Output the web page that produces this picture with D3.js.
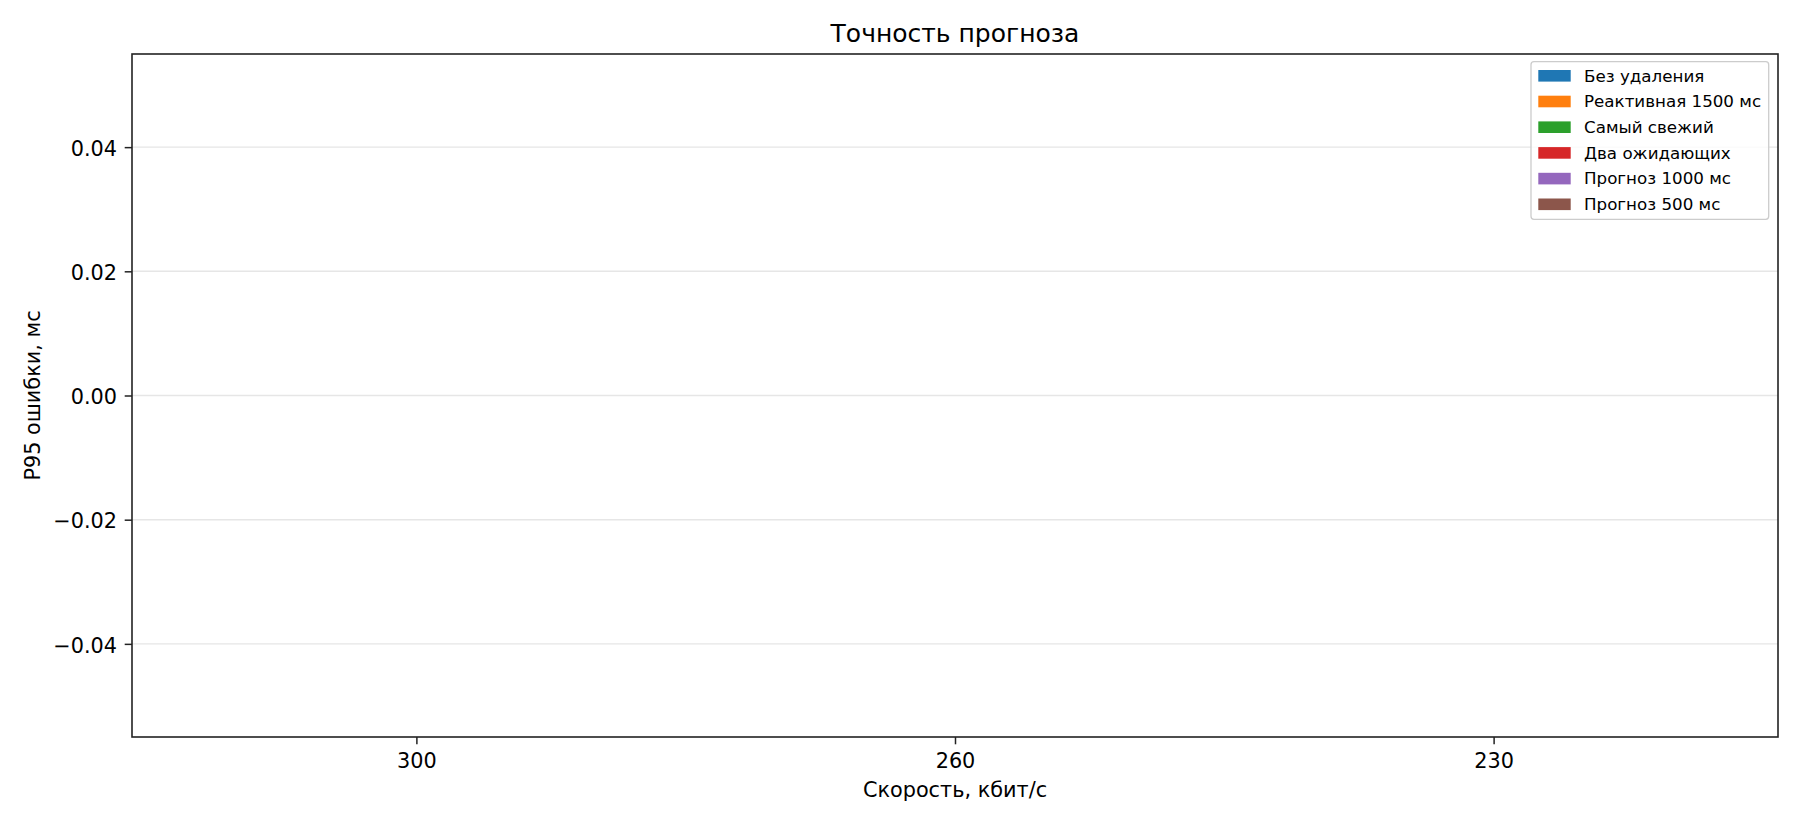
<!DOCTYPE html>
<html>
<head>
<meta charset="utf-8">
<script src="https://cdn.jsdelivr.net/npm/d3@7"></script>
<style>
  html, body { margin: 0; padding: 0; background: #fff; }
  svg { display: block; font-family: "DejaVu Sans", sans-serif; }
</style>
</head>
<body>
<svg id="chart" width="1800" height="825"></svg>
<script>
// ---- data ----
const categories = ["300", "260", "230"];
const seriesNames = ["Без удаления", "Реактивная 1500 мс", "Самый свежий", "Два ожидающих", "Прогноз 1000 мс", "Прогноз 500 мс"];
const seriesColors = ["#1f77b4", "#ff7f0e", "#2ca02c", "#d62728", "#9467bd", "#8c564b"];
const valuesNoDrop = [0, 0, 0];
const valuesReactive1500 = [0, 0, 0];
const valuesFreshest = [0, 0, 0];
const valuesTwoPending = [0, 0, 0];
const valuesForecast1000 = [0, 0, 0];
const valuesForecast500 = [0, 0, 0];
const yTickValues = [-0.04, -0.02, 0.00, 0.02, 0.04];
const titleText = "Точность прогноза";
const xLabelText = "Скорость, кбит/с";
const yLabelText = "P95 ошибки, мс";

const seriesValues = [valuesNoDrop, valuesReactive1500, valuesFreshest, valuesTwoPending, valuesForecast1000, valuesForecast500];

(function () {
// ---- layout ----
const pLeft = 132, pRight = 1778, pTop = 54, pBottom = 737;
const svg = d3.select("#chart");

const x = d3.scalePoint().domain(categories).range([pLeft, pRight]).padding(0.528);
const step = x.step();
const xInner = d3.scaleBand().domain(seriesNames).range([-0.4 * step, 0.4 * step]);
const y = d3.scaleLinear().domain([-0.055, 0.055]).range([pBottom, pTop]);

// grid
svg.append("g").selectAll("line").data(yTickValues).join("line")
  .attr("x1", pLeft).attr("x2", pRight)
  .attr("y1", d => y(d)).attr("y2", d => y(d))
  .attr("stroke", "#e6e6e6").attr("stroke-width", 1.4);

// bars
const barG = svg.append("g");
seriesNames.forEach((name, si) => {
  barG.append("g").selectAll("rect").data(seriesValues[si].map((v, ci) => ({ v, c: categories[ci] })))
    .join("rect")
    .attr("x", d => x(d.c) + xInner(name))
    .attr("width", xInner.bandwidth())
    .attr("y", d => Math.min(y(d.v), y(0)))
    .attr("height", d => Math.abs(y(d.v) - y(0)))
    .attr("fill", seriesColors[si]);
});

// axes
const fontPx = 20.8;
const xAxis = svg.append("g").attr("transform", `translate(0,${pBottom})`)
  .call(d3.axisBottom(x).tickSize(7.3).tickPadding(8.6));
const yAxis = svg.append("g").attr("transform", `translate(${pLeft},0)`)
  .call(d3.axisLeft(y).tickValues(yTickValues).tickFormat(d3.format(".2f")).tickSize(7.3).tickPadding(7.7));
[xAxis, yAxis].forEach(g => {
  g.select(".domain").remove();
  g.selectAll(".tick line").attr("stroke", "#222").attr("stroke-width", 1.5);
  g.selectAll(".tick text").attr("fill", "#000").style("font-size", fontPx + "px").style("font-family", "DejaVu Sans");
});
xAxis.selectAll(".tick text").attr("dy", "14.6px");
yAxis.selectAll(".tick text").attr("dy", "8.2px");

// frame
svg.append("rect").attr("x", pLeft).attr("y", pTop).attr("width", pRight - pLeft).attr("height", pBottom - pTop)
  .attr("fill", "none").attr("stroke", "#222").attr("stroke-width", 1.6);

// title & labels
svg.append("text").attr("x", (pLeft + pRight) / 2).attr("y", 42).attr("text-anchor", "middle")
  .style("font-size", "25px").attr("fill", "#000").text(titleText);
svg.append("text").attr("x", (pLeft + pRight) / 2).attr("y", 797).attr("text-anchor", "middle")
  .style("font-size", fontPx + "px").attr("fill", "#000").text(xLabelText);
svg.append("text").attr("transform", `translate(40,${(pTop + pBottom) / 2}) rotate(-90)`).attr("text-anchor", "middle")
  .style("font-size", fontPx + "px").attr("fill", "#000").text(yLabelText);

// legend
const lg = svg.append("g");
lg.append("rect").attr("x", 1531).attr("y", 61.7).attr("width", 237.7).attr("height", 157.6).attr("rx", 3)
  .attr("fill", "#fff").attr("fill-opacity", 0.8).attr("stroke", "#cccccc").attr("stroke-width", 1.3);
const rowH = 25.7;
const rows = lg.selectAll("g.row").data(seriesNames).join("g").attr("class", "row")
  .attr("transform", (d, i) => `translate(0,${i * rowH})`);
rows.append("rect").attr("x", 1538.3).attr("y", 70).attr("width", 32.4).attr("height", 11.6)
  .attr("fill", (d, i) => seriesColors[i]);
rows.append("text").attr("x", 1584).attr("y", 81.7).style("font-size", "16.7px").attr("fill", "#000")
  .text(d => d);
})();
</script>
</body>
</html>
